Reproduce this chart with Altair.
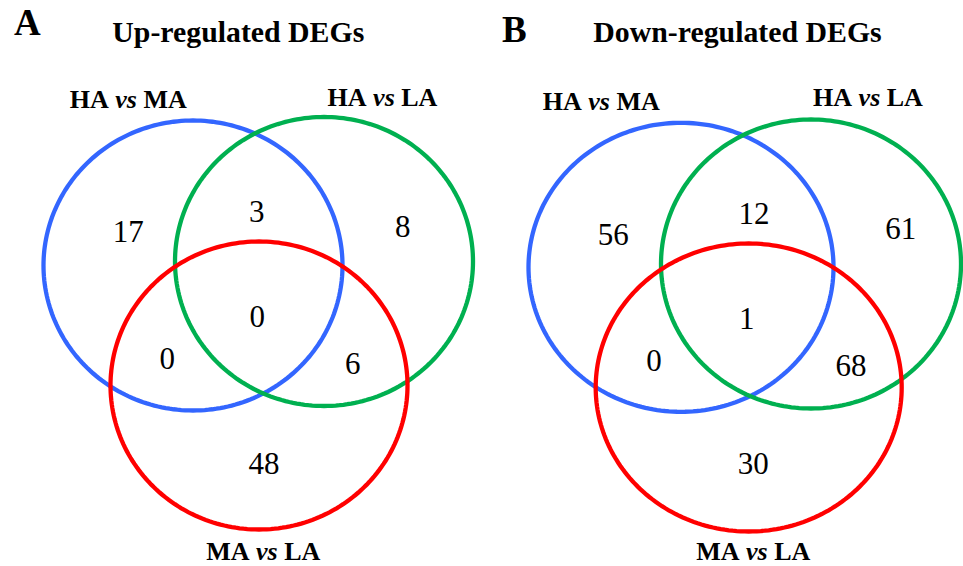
import altair as alt
import numpy as np
import pandas as pd

# ---- data -------------------------------------------------------------
panels = ["A", "B"]
panel_titles = ["Up-regulated DEGs", "Down-regulated DEGs"]
comparisons = ["HA vs MA", "HA vs LA", "MA vs LA"]
circle_colors = ["#3366FF", "#00B050", "#FF0000"]

regions = [
    "HA vs MA only",
    "HA vs MA & HA vs LA",
    "HA vs LA only",
    "all three",
    "HA vs MA & MA vs LA",
    "HA vs LA & MA vs LA",
    "MA vs LA only",
]
up_counts = [17, 3, 8, 0, 0, 6, 48]
down_counts = [56, 12, 61, 1, 0, 68, 30]
panel_counts = {"A": up_counts, "B": down_counts}

# ---- layout (pixel space of the 963 x 566 canvas) -----------------------
W, H = 963, 566
# ellipse (cx, cy, rx, ry) for each comparison, per panel
circle_geom = {
    "A": [(193.0, 265.5, 149.5, 145.0), (324.0, 261.5, 149.0, 144.5), (259.0, 385.5, 148.5, 144.0)],
    "B": [(681.0, 267.3, 152.5, 144.5), (811.0, 264.0, 150.0, 144.5), (748.7, 387.5, 153.0, 144.0)],
}
# anchor of each region's count, same order as `regions`
count_pos = {
    "A": [(128.3, 231.7), (256.7, 211.7), (402.7, 226.7), (257.3, 316.7),
          (167.3, 359.3), (352.7, 364.0), (264.0, 464.0)],
    "B": [(613.3, 235.0), (754.0, 214.3), (900.8, 229.0), (746.7, 319.0),
          (654.0, 361.0), (851.0, 366.0), (753.3, 464.3)],
}
# set label: centre x, baseline y
set_label_pos = {
    "A": [(128.3, 108.3), (382.5, 106.0), (263.3, 560.0)],
    "B": [(601.3, 110.0), (868.0, 106.0), (753.3, 560.0)],
}
letter_pos = {"A": (14.0, 35.0), "B": (502.0, 42.0)}
title_pos = {"A": (238.3, 42.0), "B": (737.5, 42.0)}

SERIF = "'Liberation Serif', 'Times New Roman', Times, 'DejaVu Serif', serif"
LABEL_SIZE = 26
# Times bold advance widths (em) for the characters used in the set labels
ADV = {"H": 0.778, "A": 0.722, "M": 0.944, "L": 0.667, "v": 0.444, "s": 0.389, " ": 0.25}


def word_width(word):
    return sum(ADV[c] for c in word) * LABEL_SIZE


# ---- tables -------------------------------------------------------------
angles = np.linspace(0.0, 2.0 * np.pi, 241)
circle_rows = []
for p in panels:
    for name, (cx, cy, rx, ry) in zip(comparisons, circle_geom[p]):
        for i, a in enumerate(angles):
            circle_rows.append({"key": f"{p}-{name}", "set": name, "i": i,
                                "x": cx + rx * np.cos(a), "y": cy + ry * np.sin(a)})
circles = pd.DataFrame(circle_rows)

count_rows = []
for p in panels:
    for reg, n, (x, y) in zip(regions, panel_counts[p], count_pos[p]):
        count_rows.append({"panel": p, "region": reg, "n": str(n), "x": x, "y": y + 1})
counts = pd.DataFrame(count_rows)

upright_rows, italic_rows = [], []
for p in panels:
    for label, (cx, base) in zip(comparisons, set_label_pos[p]):
        first, mid, last = label.split(" ")
        sp = ADV[" "] * LABEL_SIZE
        total = word_width(first) + word_width(mid) + word_width(last) + 2 * sp
        left = cx - total / 2
        upright_rows.append({"t": first, "x": left, "y": base})
        italic_rows.append({"t": mid, "x": left + word_width(first) + sp, "y": base})
        upright_rows.append({"t": last, "x": left + word_width(first) + word_width(mid) + 2 * sp, "y": base})
upright = pd.DataFrame(upright_rows)
italic = pd.DataFrame(italic_rows)

letters = pd.DataFrame([{"t": p, "x": letter_pos[p][0], "y": letter_pos[p][1]} for p in panels])
titles = pd.DataFrame([{"t": t, "x": title_pos[p][0], "y": title_pos[p][1]}
                       for p, t in zip(panels, panel_titles)])

# ---- chart --------------------------------------------------------------
xs = alt.Scale(domain=[0, W], nice=False, zero=False)
ys = alt.Scale(domain=[0, H], nice=False, zero=False, reverse=True)
X = alt.X("x:Q", scale=xs, axis=None)
Y = alt.Y("y:Q", scale=ys, axis=None)

rings = alt.Chart(circles).mark_line(strokeWidth=4.3, interpolate="linear").encode(
    x=X, y=Y,
    detail="key:N",
    order=alt.Order("i:Q"),
    color=alt.Color("set:N", scale=alt.Scale(domain=comparisons, range=circle_colors), legend=None),
)

count_text = alt.Chart(counts).mark_text(
    font=SERIF, fontSize=31, align="center", baseline="middle", color="black"
).encode(x=X, y=Y, text="n:N")

set_upright = alt.Chart(upright).mark_text(
    font=SERIF, fontSize=LABEL_SIZE, fontWeight="bold", align="left", baseline="alphabetic", color="black"
).encode(x=X, y=Y, text="t:N")

set_italic = alt.Chart(italic).mark_text(
    font=SERIF, fontSize=LABEL_SIZE, fontWeight="bold", fontStyle="italic",
    align="left", baseline="alphabetic", color="black"
).encode(x=X, y=Y, text="t:N")

letter_text = alt.Chart(letters).mark_text(
    font=SERIF, fontSize=37, fontWeight="bold", align="left", baseline="alphabetic", color="black"
).encode(x=X, y=Y, text="t:N")

title_text = alt.Chart(titles).mark_text(
    font=SERIF, fontSize=29.8, fontWeight="bold", align="center", baseline="alphabetic", color="black"
).encode(x=X, y=Y, text="t:N")

chart = (
    alt.layer(rings, count_text, set_upright, set_italic, letter_text, title_text)
    .properties(width=W, height=H, padding=0, autosize=alt.AutoSizeParams(type="none"), background="white")
    .configure_view(stroke=None)
)

chart.save("out.html", embed_options={"renderer": "svg", "actions": False})
